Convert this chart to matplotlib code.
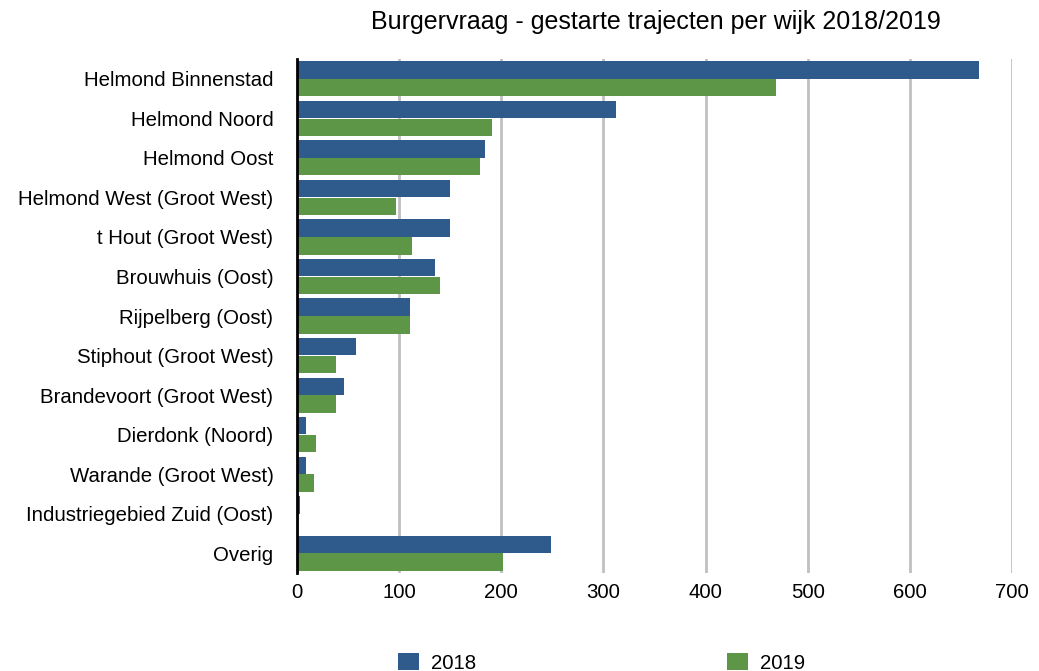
import numpy as np
import matplotlib.pyplot as plt

wijken = [
    "Helmond Binnenstad", "Helmond Noord", "Helmond Oost",
    "Helmond West (Groot West)", "t Hout (Groot West)", "Brouwhuis (Oost)",
    "Rijpelberg (Oost)", "Stiphout (Groot West)", "Brandevoort (Groot West)",
    "Dierdonk (Noord)", "Warande (Groot West)", "Industriegebied Zuid (Oost)",
    "Overig",
]
v2018 = [668, 312, 184, 150, 150, 135, 111, 58, 46, 9, 9, 3, 249]
v2019 = [469, 191, 179, 97, 113, 140, 111, 38, 38, 19, 17, 0, 202]
xticks = [0, 100, 200, 300, 400, 500, 600, 700]

plt.rcParams["font.family"] = ["Liberation Sans", "DejaVu Sans"]
blue = "#2E5A8C"
green = "#5E9648"

fig = plt.figure(figsize=(10.39, 6.71), dpi=100)
ax = fig.add_axes([0.2859, 0.146, 0.688, 0.766])

y = np.arange(len(wijken))
h = 0.44
ax.barh(y - 0.225, v2018, height=h, color=blue, label="2018", zorder=3)
ax.barh(y + 0.225, v2019, height=h, color=green, label="2019", zorder=3)

ax.set_ylim(len(wijken) - 0.5, -0.5)
ax.set_xlim(0, 700)
ax.set_yticks(y)
ax.set_yticklabels(wijken, fontsize=14.7)
ax.set_xticks(xticks)
ax.set_xticklabels([str(t) for t in xticks], fontsize=14.7)
ax.tick_params(axis="both", length=0)
ax.tick_params(axis="y", pad=17)
ax.tick_params(axis="x", pad=7)

ax.grid(axis="x", color="#C0C0C0", linewidth=2, zorder=0)
for s in ["top", "right", "bottom"]:
    ax.spines[s].set_visible(False)
ax.spines["left"].set_linewidth(2)
ax.spines["left"].set_zorder(4)

fig.text(0.631, 1 - 22 / 671, "Burgervraag - gestarte trajecten per wijk 2018/2019",
         ha="center", va="center", fontsize=18)

fig.legend(loc="center", bbox_to_anchor=(0.579, 0.012), ncol=2, frameon=False,
           fontsize=14.7, handlelength=1.0, handleheight=0.9,
           columnspacing=12.3, handletextpad=0.6)

fig.savefig("out.png", dpi=100)
